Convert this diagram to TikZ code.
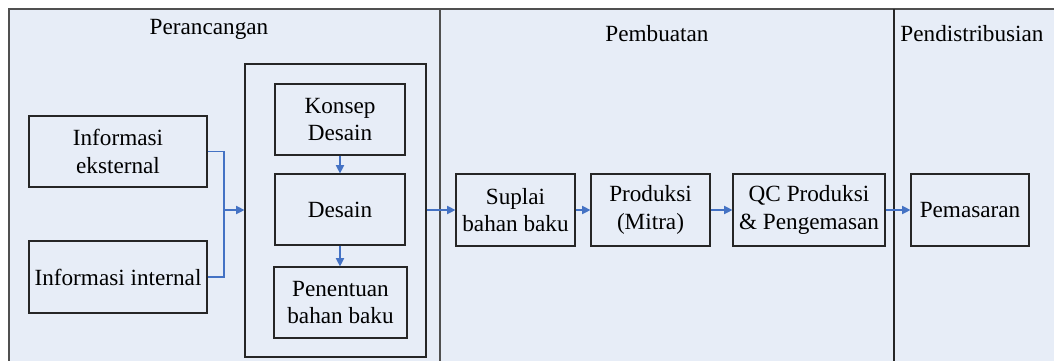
\documentclass[tikz,border=0pt]{standalone}
\usepackage{fontspec}
\setmainfont{Liberation Serif}
\usetikzlibrary{arrows.meta}
\definecolor{lanefill}{HTML}{E7EDF7}
\definecolor{flowblue}{HTML}{4472C4}
\definecolor{laneline}{HTML}{505050}
\tikzset{
  box/.style={draw=black!85, line width=0.6pt, align=center, inner sep=0pt,
    font=\fontsize{11.6}{13.9}\selectfont},
  lanetitle/.style={font=\fontsize{11.6}{13.9}\selectfont},
  flow/.style={draw=flowblue, line width=0.6pt, -{Triangle[length=4.2pt,width=4.2pt]}},
  flowline/.style={draw=flowblue, line width=0.6pt},
}
% all coordinates: 1 unit = 0.5pt, y measured downwards as negative values
\begin{document}
\begin{tikzpicture}[x=0.5pt,y=0.5pt]
\useasboundingbox (0,0) rectangle (1054,-360);
\begin{scope}
\clip (0,0) rectangle (1054,-360);
% swimlane frame and dividers
\draw[fill=lanefill, draw=laneline, line width=0.7pt] (9,-9) rectangle (1070,-380);
\draw[laneline, line width=0.7pt] (440,-9) -- (440,-380);
\draw[black!85, line width=0.7pt] (894,-9) -- (894,-380);
\end{scope}

% lane titles
\node[lanetitle] (t1) at (209,-29) {Perancangan};
\node[lanetitle] (t2) at (657,-34) {Pembuatan};
\node[lanetitle] (t3) at (972,-34) {Pendistribusian};

% design group container
\node[box, minimum width=90.5pt, minimum height=146.5pt] (grp) at (335.5,-210.5) {};

% inputs
\node[box, minimum width=89pt, minimum height=35.5pt] (ext) at (118,-151.5) {Informasi\\eksternal};
\node[box, minimum width=89pt, minimum height=36pt] (int) at (118,-277) {Informasi internal};

% design steps
\node[box, minimum width=65pt, minimum height=35.5pt] (konsep) at (340,-119.5) {Konsep\\Desain};
\node[box, minimum width=65pt, minimum height=35.5pt] (desain) at (340,-209.5) {Desain};
\node[box, minimum width=66.5pt, minimum height=35.5pt] (bahan) at (340.5,-302.5) {Penentuan\\bahan baku};

% production and distribution
\node[box, minimum width=59.5pt, minimum height=36pt] (suplai) at (515.5,-210) {Suplai\\bahan baku};
\node[box, minimum width=59.5pt, minimum height=36pt] (prod) at (650.5,-210) {Produksi\\(Mitra)};
\node[box, minimum width=76pt, minimum height=36pt] (qc) at (809,-210) {QC Produksi\\\& Pengemasan};
\node[box, minimum width=59pt, minimum height=36pt] (pasar) at (970,-210) {Pemasaran};

% merge point of the two inputs
\coordinate (join) at (224,-210);
\draw[flowline] (ext.east) -| (join);
\draw[flowline] (int.east) -| (join);
\draw[flow] (join) -- (grp.west |- join);

% flow through the design steps
\draw[flow] (konsep.south) -- (desain.north);
\draw[flow] (desain.south) -- (desain.south |- bahan.north);

% main flow
\draw[flow] (grp.east |- suplai.west) -- (suplai.west);
\draw[flow] (suplai.east) -- (prod.west);
\draw[flow] (prod.east) -- (qc.west);
\draw[flow] (qc.east) -- (pasar.west);
\end{tikzpicture}
\end{document}
